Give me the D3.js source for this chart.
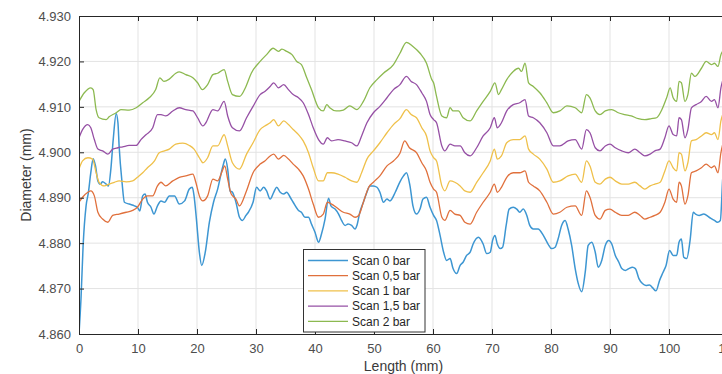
<!DOCTYPE html>
<html>
<head>
<meta charset="utf-8">
<script src="https://cdn.jsdelivr.net/npm/d3@7"></script>
<style>
  html, body { margin: 0; padding: 0; background: #fff; }
  svg { display: block; font-family: "Liberation Sans", Arial, Helvetica, sans-serif; }
</style>
</head>
<body>
<svg id="chart" width="722" height="374"></svg>
<script>
// ---------- data ----------
const seriesNames = ["Scan 0 bar", "Scan 0,5 bar", "Scan 1 bar", "Scan 1,5 bar", "Scan 2 bar"];
const seriesColors = ["#3d96d2", "#e0703c", "#efc04a", "#9650a5", "#8cb950"];

const xTicks = [0, 10, 20, 30, 40, 50, 60, 70, 80, 90, 100, 110];
const yTicks = [4.860, 4.870, 4.880, 4.890, 4.900, 4.910, 4.920, 4.930];

// Scan 0 bar
const len0 = [0,0.34,0.7,1.2,1.6,2.0,2.4,2.8,3.2,3.6,4.0,4.6,5.0,5.4,5.8,6.3,6.6,6.8,7.3,7.7,8.5,9.4,9.9,10.3,10.8,11.2,11.6,12.2,12.7,13.3,13.9,14.5,15.3,16.2,17.0,17.9,18.7,19.2,19.5,19.9,20.4,20.8,21.4,22.1,22.8,23.5,24.4,24.8,25.2,25.6,26.0,26.6,27.2,27.7,28.3,
  28.7,29.5,30.1,30.7,31.3,31.8,32.4,33.0,33.5,34.1,34.7,35.2,35.8,36.3,37.2,37.7,38.3,38.9,39.4,40.0,40.6,41.1,41.7,42.3,42.7,43.4,44.0,44.5,45.1,45.6,46.2,46.8,47.1,47.6,48.2,48.8,49.3,49.9,50.5,51.0,51.6,52.2,52.7,53.6,54.4,55.0,55.5,
  56.1,56.6,57.2,57.8,58.3,58.9,59.5,60.1,60.6,61.2,61.8,62.3,62.9,63.4,64.0,64.6,65.1,65.7,66.3,66.8,67.7,68.5,69.1,69.7,70.1,70.5,70.9,71.4,71.8,72.4,72.9,73.6,74.2,74.7,75.3,75.9,76.4,77.0,77.8,78.7,79.5,80.1,80.7,81.2,81.8,82.4,82.9,
  83.5,84.1,84.6,85.2,85.8,86.3,86.9,87.5,88.0,88.6,89.2,89.8,90.3,90.9,91.5,92.0,92.6,93.2,93.8,94.3,94.9,95.5,96.1,96.7,97.2,97.8,98.4,99.0,99.5,100.1,100.7,101.3,101.7,102.1,102.5,103.0,103.6,104.1,104.5,105.1,105.9,106.8,107.7,108.2,108.7,109.1,109.4];
const scan0 = [4.8600,4.8678,4.8795,4.8882,4.8912,4.8955,4.8986,4.8970,4.8937,4.8930,4.8935,4.8930,4.8926,4.8963,4.9028,4.9085,4.9065,4.9014,4.8933,4.8890,4.8886,4.8882,4.8879,4.8871,4.8904,4.8908,4.8890,4.8879,4.8864,4.8882,4.8893,4.8890,4.8904,4.8904,4.8886,4.8893,4.8919,4.8923,4.8904,4.8853,4.8780,4.8751,4.8780,4.8846,4.8890,4.8919,4.8970,4.8985,4.8963,4.8915,4.8912,4.8890,4.8857,4.8850,4.8861,
  4.8868,4.8890,4.8923,4.8915,4.8923,4.8915,4.8897,4.8912,4.8923,4.8912,4.8908,4.8912,4.8901,4.8890,4.8872,4.8868,4.8857,4.8857,4.8842,4.8824,4.8802,4.8820,4.8853,4.8899,4.8882,4.8875,4.8864,4.8850,4.8839,4.8842,4.8839,4.8831,4.8839,4.8868,4.8890,4.8912,4.8926,4.8926,4.8923,4.8912,4.8890,4.8897,4.8893,4.8912,4.8935,4.8948,4.8955,
  4.8926,4.8882,4.8864,4.8875,4.8897,4.8901,4.8879,4.8861,4.8850,4.8817,4.8780,4.8762,4.8766,4.8744,4.8733,4.8751,4.8758,4.8773,4.8780,4.8798,4.8813,4.8798,4.8777,4.8780,4.8806,4.8817,4.8798,4.8788,4.8791,4.8839,4.8875,4.8879,4.8875,4.8868,4.8875,4.8861,4.8839,4.8831,4.8831,4.8817,4.8798,4.8788,4.8791,4.8809,4.8839,4.8850,4.8831,
  4.8795,4.8744,4.8712,4.8693,4.8736,4.8795,4.8802,4.8780,4.8747,4.8762,4.8795,4.8806,4.8798,4.8773,4.8758,4.8744,4.8740,4.8744,4.8747,4.8744,4.8722,4.8711,4.8707,4.8708,4.8702,4.8695,4.8718,4.8736,4.8751,4.8784,4.8773,4.8773,4.8802,4.8809,4.8769,4.8766,4.8809,4.8868,4.8864,4.8861,4.8864,4.8857,4.8850,4.8846,4.8850,4.8941,4.8999];

// Scan 0,5 bar
const len05 = [0,0.6,1.5,2.0,2.6,3.2,4.0,4.9,5.7,6.8,8.0,9.1,9.9,10.8,11.6,12.5,13.3,13.9,14.7,15.9,17.0,18.1,19.3,19.8,20.4,21.0,21.8,22.7,23.5,24.4,24.7,25.2,25.8,26.6,27.2,28.3,29.5,30.7,31.5,32.4,33.0,33.8,34.7,35.5,36.3,37.2,38.0,38.9,39.7,40.6,41.4,42.1,42.8,43.6,44.8,45.9,46.8,47.4,48.2,49.1,49.9,51.0,52.2,53.3,54.4,55.2,56.0,57.2,58.1,58.9,59.5,60.1,60.6,61.5,62.0,62.9,63.7,64.6,65.4,66.3,67.4,68.5,69.7,70.4,70.9,71.6,72.5,73.6,74.7,75.6,76.2,77.0,78.1,79.3,80.4,81.5,82.7,84.1,85.2,86.0,86.6,87.5,88.3,89.2,90.0,90.9,92.0,93.1,94.2,95.1,95.9,96.8,97.6,98.5,99.3,100.0,100.7,101.3,101.7,102.1,102.7,103.2,103.8,104.6,105.5,106.3,107.2,107.7,108.3,108.8,109.3];
const scan05 = [4.8890,4.8901,4.8912,4.8915,4.8904,4.8868,4.8853,4.8846,4.8861,4.8864,4.8868,4.8872,4.8879,4.8897,4.8904,4.8904,4.8926,4.8934,4.8926,4.8937,4.8945,4.8948,4.8952,4.8934,4.8904,4.8893,4.8904,4.8941,4.8937,4.8963,4.8970,4.8941,4.8908,4.8897,4.8882,4.8912,4.8955,4.8974,4.8981,4.8992,4.8996,4.8985,4.8993,4.8985,4.8974,4.8963,4.8948,4.8919,4.8886,4.8857,4.8864,4.8890,4.8886,4.8879,4.8868,4.8864,4.8857,4.8861,4.8890,4.8923,4.8934,4.8948,4.8970,4.8981,4.8998,4.9025,4.9010,4.8999,4.8977,4.8959,4.8934,4.8919,4.8912,4.8857,4.8850,4.8872,4.8864,4.8861,4.8846,4.8842,4.8868,4.8890,4.8912,4.8930,4.8912,4.8923,4.8945,4.8955,4.8955,4.8959,4.8934,4.8926,4.8915,4.8890,4.8864,4.8868,4.8879,4.8882,4.8861,4.8915,4.8901,4.8861,4.8853,4.8872,4.8875,4.8868,4.8861,4.8861,4.8868,4.8861,4.8853,4.8857,4.8861,4.8868,4.8890,4.8919,4.8897,4.8890,4.8934,4.8926,4.8886,4.8904,4.8955,4.8959,4.8966,4.8974,4.8966,4.8970,4.8955,4.8999,4.9028];

// Scan 1 bar
const len1 = [0,0.6,1.5,2.3,2.9,3.4,4.3,5.1,6.0,6.8,8.0,9.1,9.9,10.8,11.6,12.8,13.6,14.5,15.3,16.4,17.6,18.7,19.5,20.4,21.0,21.8,22.7,23.5,24.4,24.6,25.2,26.0,27.2,28.4,29.5,30.7,31.5,32.4,33.0,33.8,34.7,35.5,36.3,37.2,38.0,38.9,39.7,40.6,41.4,42.1,42.8,43.9,45.1,46.2,47.1,47.9,48.8,49.9,51.0,52.2,53.3,54.4,55.5,56.3,57.2,58.1,58.9,59.5,60.1,60.6,61.5,62.0,62.9,63.7,64.6,65.4,66.3,67.4,68.5,69.7,70.4,70.9,71.6,72.5,73.6,74.7,75.6,76.2,77.0,78.1,79.3,80.4,81.5,82.9,84.1,85.2,86.0,86.6,87.5,88.3,89.2,90.0,90.9,92.0,93.1,94.2,95.1,95.9,96.8,97.6,98.5,99.3,100.0,100.7,101.3,101.7,102.1,102.7,103.2,103.8,104.6,105.5,106.3,107.2,107.7,108.3,108.8,109.3];
const scan1 = [4.8963,4.8981,4.8988,4.8985,4.8955,4.8934,4.8926,4.8930,4.8934,4.8937,4.8935,4.8937,4.8945,4.8955,4.8966,4.8981,4.8999,4.9003,4.9007,4.9018,4.9020,4.9015,4.9007,4.8988,4.8977,4.8988,4.9014,4.9014,4.9036,4.9039,4.9014,4.8977,4.8963,4.8996,4.9021,4.9050,4.9058,4.9065,4.9072,4.9058,4.9069,4.9061,4.9050,4.9039,4.9025,4.8999,4.8966,4.8937,4.8937,4.8955,4.8955,4.8952,4.8945,4.8937,4.8934,4.8955,4.8985,4.9003,4.9021,4.9043,4.9061,4.9074,4.9094,4.9083,4.9076,4.9054,4.9036,4.9003,4.8988,4.8981,4.8926,4.8915,4.8937,4.8934,4.8926,4.8915,4.8912,4.8934,4.8955,4.8981,4.9007,4.8985,4.8992,4.9021,4.9028,4.9028,4.9036,4.9007,4.8996,4.8985,4.8963,4.8934,4.8937,4.8948,4.8952,4.8934,4.8981,4.8970,4.8934,4.8930,4.8941,4.8945,4.8937,4.8930,4.8930,4.8934,4.8926,4.8919,4.8926,4.8930,4.8934,4.8959,4.8981,4.8966,4.8959,4.8999,4.8996,4.8959,4.8977,4.9025,4.9028,4.9036,4.9043,4.9039,4.9043,4.9028,4.9069,4.9090];

// Scan 1,5 bar
const len15 = [0,0.6,1.5,2.0,2.6,3.2,4.0,4.9,5.7,6.6,7.4,8.5,9.7,10.5,11.4,12.5,13.3,13.9,14.7,15.9,17.0,18.1,19.3,20.1,21.0,21.5,22.7,23.5,24.6,25.2,26.0,27.2,28.4,29.5,30.7,31.5,32.4,33.0,33.8,34.7,35.5,36.3,37.2,38.0,38.9,39.7,40.6,41.4,42.1,42.8,43.9,45.1,46.2,47.1,47.9,48.8,49.9,51.0,52.2,53.3,54.4,55.5,56.3,57.2,58.1,58.9,59.5,60.1,60.6,61.5,62.0,62.9,63.7,64.6,65.4,66.3,67.4,68.5,69.7,70.4,70.9,71.6,72.5,73.6,74.7,75.6,76.2,77.0,78.1,79.3,80.4,81.5,82.9,84.1,85.2,86.0,86.6,87.5,88.3,89.2,90.0,90.9,92.0,93.1,94.2,95.1,95.9,96.8,97.6,98.5,99.3,100.0,100.7,101.3,101.7,102.1,102.7,103.2,103.8,104.6,105.5,106.3,107.2,107.7,108.3,108.8,109.3];
const scan15 = [4.9032,4.9050,4.9061,4.9054,4.9028,4.9007,4.9003,4.8996,4.9007,4.9010,4.9012,4.9015,4.9015,4.9028,4.9039,4.9054,4.9083,4.9083,4.9080,4.9091,4.9098,4.9094,4.9091,4.9076,4.9058,4.9065,4.9094,4.9091,4.9112,4.9080,4.9054,4.9047,4.9076,4.9101,4.9127,4.9134,4.9145,4.9153,4.9142,4.9149,4.9138,4.9127,4.9120,4.9109,4.9083,4.9054,4.9028,4.9018,4.9032,4.9025,4.9028,4.9025,4.9021,4.9014,4.9036,4.9065,4.9087,4.9101,4.9120,4.9138,4.9149,4.9167,4.9156,4.9149,4.9131,4.9112,4.9083,4.9072,4.9065,4.9014,4.9003,4.9018,4.9014,4.9014,4.8999,4.8992,4.9010,4.9036,4.9054,4.9076,4.9054,4.9065,4.9091,4.9105,4.9109,4.9116,4.9080,4.9076,4.9065,4.9043,4.9014,4.9014,4.9025,4.9028,4.9007,4.9050,4.9043,4.9010,4.9003,4.9014,4.9018,4.9010,4.9003,4.8999,4.9007,4.8999,4.8992,4.8996,4.9003,4.9007,4.9032,4.9058,4.9039,4.9036,4.9076,4.9072,4.9032,4.9050,4.9098,4.9105,4.9112,4.9123,4.9112,4.9116,4.9098,4.9142,4.9167];

// Scan 2 bar
const len2 = [0,0.9,2.0,2.4,2.9,3.4,4.6,5.1,6.3,7.1,8.5,9.7,10.8,11.9,13.0,13.7,14.4,15.3,16.4,17.0,18.1,19.3,20.1,20.9,21.8,22.7,23.5,24.6,25.2,26.0,27.2,28.3,29.2,30.7,31.8,32.9,33.8,34.4,35.2,36.1,36.9,37.7,38.6,39.4,40.6,41.4,42.0,42.5,43.6,44.8,45.9,47.1,48.2,49.3,50.5,51.6,53.3,54.4,55.5,56.6,57.8,58.9,59.8,60.1,60.6,61.5,62.3,62.9,63.4,64.3,65.1,66.3,67.4,68.5,69.7,70.5,71.1,71.6,72.5,73.6,74.5,75.0,75.6,76.2,77.0,78.1,79.3,80.4,81.5,82.7,84.1,85.2,86.0,86.6,87.5,88.3,89.2,90.3,91.4,92.5,93.6,94.8,95.9,97.0,97.9,98.8,99.6,100.2,100.7,101.3,101.7,102.1,102.7,103.2,103.8,104.4,105.5,106.3,107.2,107.7,108.3,108.8,109.3];
const scan2 = [4.9112,4.9131,4.9142,4.9138,4.9094,4.9076,4.9072,4.9078,4.9087,4.9094,4.9093,4.9098,4.9109,4.9120,4.9138,4.9164,4.9156,4.9161,4.9174,4.9177,4.9171,4.9164,4.9153,4.9138,4.9149,4.9171,4.9174,4.9182,4.9156,4.9127,4.9123,4.9145,4.9174,4.9200,4.9215,4.9229,4.9222,4.9227,4.9222,4.9215,4.9200,4.9193,4.9164,4.9138,4.9098,4.9091,4.9105,4.9098,4.9091,4.9093,4.9102,4.9094,4.9112,4.9142,4.9160,4.9174,4.9193,4.9218,4.9242,4.9233,4.9218,4.9196,4.9160,4.9153,4.9123,4.9080,4.9076,4.9098,4.9091,4.9091,4.9076,4.9069,4.9091,4.9112,4.9134,4.9153,4.9127,4.9138,4.9160,4.9178,4.9185,4.9178,4.9196,4.9153,4.9145,4.9131,4.9109,4.9087,4.9091,4.9102,4.9098,4.9087,4.9127,4.9120,4.9091,4.9083,4.9091,4.9094,4.9087,4.9083,4.9080,4.9074,4.9072,4.9074,4.9076,4.9094,4.9120,4.9142,4.9120,4.9112,4.9156,4.9153,4.9112,4.9127,4.9174,4.9167,4.9185,4.9200,4.9193,4.9196,4.9189,4.9215,4.9226];

const seriesLengths = [len0, len05, len1, len15, len2];
const seriesValues = [scan0, scan05, scan1, scan15, scan2];

// ---------- layout ----------
const margin = { left: 79, top: 16, bottom: 334, right: 728 };
const svg = d3.select("#chart");

const x = d3.scaleLinear().domain([0, 110]).range([margin.left, margin.right]);
const y = d3.scaleLinear().domain([4.860, 4.930]).range([margin.bottom, margin.top]);

const axisColor = "#262626";
const gridColor = "#e3e3e3";

// grid
const grid = svg.append("g");
grid.selectAll("line.gx").data(xTicks.slice(1)).enter().append("line")
  .attr("x1", d => x(d)).attr("x2", d => x(d))
  .attr("y1", margin.top).attr("y2", margin.bottom)
  .attr("stroke", gridColor).attr("stroke-width", 1);
grid.selectAll("line.gy").data(yTicks.slice(1, -1)).enter().append("line")
  .attr("x1", margin.left).attr("x2", margin.right)
  .attr("y1", d => y(d)).attr("y2", d => y(d))
  .attr("stroke", gridColor).attr("stroke-width", 1);

// clip
svg.append("clipPath").attr("id", "plotclip").append("rect")
  .attr("x", margin.left).attr("y", margin.top - 1)
  .attr("width", margin.right - margin.left).attr("height", margin.bottom - margin.top + 1);

// lines
const line = d3.line().x(d => x(d[0])).y(d => y(d[1])).curve(d3.curveMonotoneX);
const lines = svg.append("g").attr("clip-path", "url(#plotclip)");
seriesValues.forEach((vals, i) => {
  const pts = vals.map((v, k) => [seriesLengths[i][k], v]);
  lines.append("path").datum(pts)
    .attr("d", line)
    .attr("fill", "none")
    .attr("stroke", seriesColors[i])
    .attr("stroke-width", i === 0 ? 1.5 : 1.3)
    .attr("stroke-linejoin", "round");
});

// axes (MATLAB style, inward ticks)
const xAxis = d3.axisBottom(x).tickValues(xTicks).tickSizeInner(-5).tickSizeOuter(0).tickPadding(10).tickFormat(d3.format("d"));
const gx = svg.append("g").attr("transform", `translate(0,${margin.bottom})`).call(xAxis);
const xTop = d3.axisTop(x).tickValues(xTicks).tickSizeInner(-5).tickSizeOuter(0).tickFormat("");
const gxt = svg.append("g").attr("transform", `translate(0,${margin.top})`).call(xTop);
const yAxis = d3.axisLeft(y).tickValues(yTicks).tickSizeInner(-5).tickSizeOuter(0).tickPadding(8).tickFormat(d3.format(".3f"));
const gy = svg.append("g").attr("transform", `translate(${margin.left},0)`).call(yAxis);

[gx, gxt, gy].forEach(g => {
  g.select(".domain").attr("stroke", axisColor).attr("stroke-width", 1);
  g.selectAll(".tick line").attr("stroke", axisColor);
  g.selectAll(".tick text").attr("fill", "#4d4d4d").style("font-size", "13px")
    .style("font-family", "'Liberation Sans', Arial, sans-serif");
});

// axis labels
svg.append("text")
  .attr("x", (margin.left + margin.right) / 2).attr("y", 371)
  .attr("text-anchor", "middle").attr("fill", "#3a3a3a")
  .style("font-size", "14px").text("Length (mm)");
svg.append("text")
  .attr("transform", `translate(31,${(margin.top + margin.bottom) / 2}) rotate(-90)`)
  .attr("text-anchor", "middle").attr("fill", "#3a3a3a")
  .style("font-size", "14px").text("Diameter (mm)");

// legend
const lg = svg.append("g");
lg.append("rect").attr("x", 303.5).attr("y", 249.5).attr("width", 121.5).attr("height", 82.5)
  .attr("fill", "#fff").attr("stroke", "#333").attr("stroke-width", 1);
seriesNames.forEach((name, i) => {
  const yy = 260.5 + i * 15.2;
  lg.append("line").attr("x1", 308).attr("x2", 348).attr("y1", yy).attr("y2", yy)
    .attr("stroke", seriesColors[i]).attr("stroke-width", 1.3);
  lg.append("text").attr("x", 352).attr("y", yy + 4.2)
    .attr("fill", "#262626").style("font-size", "12px").text(name);
});
</script>
</body>
</html>
